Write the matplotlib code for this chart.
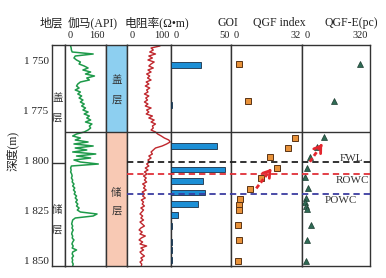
import matplotlib
matplotlib.use('Agg')
import matplotlib.pyplot as plt
from matplotlib.transforms import blended_transform_factory

plt.rcParams['font.family'] = ['Liberation Serif', 'Noto Sans CJK SC', 'DejaVu Sans']

# ---------------- data ----------------
depth_top, depth_bottom = 1742.5, 1853.0
depth_ticks = [1750, 1775, 1800, 1825, 1850]
depth_tick_labels = ['1 750', '1 775', '1 800', '1 825', '1 850']

curve_depth_start = 1742  # 1 m sampling
gamma = [22, 22, 24, 25, 28, 110, 40, 35, 45, 60, 55, 75, 90, 70, 100, 80, 115, 85, 95, 60,
         50, 45, 55, 40, 60, 50, 65, 55, 70, 60, 75, 65, 80, 70, 90, 75, 95, 85, 100, 80,
         105, 95, 100, 90, 75,
         45, 30, 60, 40, 90, 35, 110, 40, 85, 30, 120, 45, 100, 35, 60, 130, 25, 22, 24, 22,
         26, 28, 25, 30, 28, 35, 30, 38, 33, 40, 36, 45, 40, 48, 42, 50, 45, 55, 48, 60,
         125, 110, 40, 30, 28, 26, 30, 27, 32, 28, 26, 30, 28, 35, 30, 27, 32, 28, 45, 30,
         28, 33, 27, 30, 28, 32, 30]
resistivity = [60, 75, 55, 60, 52, 65, 50, 58, 48, 62, 55, 50, 60, 48, 55, 45, 52, 47, 55, 44,
               50, 42, 52, 45, 48, 40, 50, 43, 47, 40, 48, 42, 55, 45, 50, 44, 58, 50, 62, 55,
               65, 58, 60, 55, 65,
               70, 78, 85, 95, 98, 90, 80, 65, 60, 55, 58, 50, 55, 48, 52, 45, 50, 42, 48, 40,
               46, 38, 44, 40, 45, 36, 42, 38, 44, 35, 40, 36, 42, 33, 38, 35, 40, 32, 38, 34,
               30, 36, 32, 38, 30, 35, 40, 32, 28, 35, 30, 42, 33, 28, 36, 30, 45, 32, 38, 30,
               34, 40, 32, 36, 30, 34, 33]

goi_depth = [1752.5, 1772.5, 1793, 1804.7, 1810.5, 1816.3, 1822, 1827.5, 1833, 1841, 1845, 1850]
goi_value = [25, 1, 38, 45, 26.5, 28, 22, 5.5, 1, 1, 0.7, 1]

qgf_depth = [1752.2, 1770.5, 1788.8, 1793.8, 1798.7, 1804.2, 1809.2, 1814.7, 1819.7, 1822.5,
             1825, 1832.5, 1840, 1850.5]
qgf_value = [3.3, 7.6, 29, 25.7, 17.6, 20.5, 13.6, 8.5, 3.8, 3.5, 3.3, 3.2, 3.3, 3.2]

qgfe_depth = [1752, 1770.3, 1788.7, 1793.7, 1798.7, 1804, 1808.7, 1814, 1819, 1821, 1823,
              1824.5, 1832.5, 1840, 1850.5]
qgfe_value = [276, 152, 106, 72, 37, 25, 16, 27, 18, 15, 20, 22, 42, 23, 19]

seal_base = 1786.0          # seal / reservoir boundary in log tracks
strat_boundary = 1801.5     # boundary in stratum column
contacts = {'FWL': 1801.0, 'ROWC': 1807.0, 'POWC': 1817.0}

qgf_arrow = [(11.3, 1814.2), (18.9, 1803.3)]
qgfe_arrow = [(37, 1800.9), (103, 1790.9)]

# ---------------- layout ----------------
W, H = 386, 278
fig = plt.figure(figsize=(W / 100, H / 100), dpi=100)
y_top_px, y_bot_px = 45, 266

def rect(x0, x1):
    return [x0 / W, 1 - y_bot_px / H, (x1 - x0) / W, (y_bot_px - y_top_px) / H]

cols = {'strat': (52, 65), 'gamma': (65, 106), 'zone': (106, 126.7), 'res': (126.7, 171),
        'goi': (171, 231.3), 'qgf': (231.3, 302), 'qgfe': (302, 369.7)}
frame_c = '#333333'
lw_frame = 1.0

axes = {}
for k, (x0, x1) in cols.items():
    ax = fig.add_axes(rect(x0, x1))
    ax.set_ylim(depth_bottom, depth_top)
    ax.set_xticks([])
    ax.set_yticks([])
    for s in ax.spines.values():
        s.set_color(frame_c)
        s.set_linewidth(lw_frame)
    axes[k] = ax

ranges = {'gamma': (0, 160), 'res': (0, 100), 'goi': (0, 50), 'qgf': (0, 32), 'qgfe': (0, 320)}
for k, r in ranges.items():
    axes[k].set_xlim(*r)
axes['zone'].set_xlim(0, 1)
axes['strat'].set_xlim(0, 1)

depths = [curve_depth_start + i for i in range(len(gamma))]
axes['gamma'].plot(gamma, depths, color='#1E9A4A', lw=1.1)
axes['res'].plot(resistivity, depths, color='#C0272D', lw=1.0)

# zone column
axes['zone'].axhspan(depth_top, seal_base, color='#8DCFF0', lw=0)
axes['zone'].axhspan(seal_base, depth_bottom, color='#F8C9B4', lw=0)
zone_font = dict(fontsize=7.5, ha='center', va='center', color='#333333')
axes['zone'].text(0.5, 1760, '盖', **zone_font)
axes['zone'].text(0.5, 1770, '层', **zone_font)
axes['zone'].text(0.5, 1816.5, '储', **zone_font)
axes['zone'].text(0.5, 1825.5, '层', **zone_font)

# stratum column
axes['strat'].axhline(strat_boundary, color=frame_c, lw=lw_frame)
axes['strat'].text(0.4, 1769, '盖', **zone_font)
axes['strat'].text(0.4, 1779, '层', **zone_font)
axes['strat'].text(0.4, 1825, '储', **zone_font)
axes['strat'].text(0.4, 1835, '层', **zone_font)
axes['strat'].set_yticks(depth_ticks)
axes['strat'].set_yticklabels(depth_tick_labels, fontsize=8, color='#222222')
axes['strat'].tick_params(axis='y', length=0, pad=2.5)

# seal base line across tracks
for k in ['gamma', 'zone', 'res', 'goi', 'qgf', 'qgfe']:
    axes[k].axhline(seal_base, color=frame_c, lw=lw_frame, zorder=5)

# GOI bars
axes['goi'].barh(goi_depth, goi_value, height=2.8, left=0, color='#1C8FD6',
                 edgecolor='#1a2f45', linewidth=0.6, zorder=3)

# QGF index squares
axes['qgf'].plot(qgf_value, qgf_depth, ls='none', marker='s', ms=4.2,
                 mfc='#E8923A', mec='#5a3415', mew=0.7, zorder=4)
# QGF-E triangles
axes['qgfe'].plot(qgfe_value, qgfe_depth, ls='none', marker='^', ms=4.0,
                  mfc='#2E6B55', mec='#1d3d31', mew=0.5, zorder=4)

# contacts (dashed) spanning resistivity .. QGF-E
ov = fig.add_axes(rect(52, 369.7))
ov.set_ylim(depth_bottom, depth_top)
ov.set_xlim(0, 1)
ov.axis('off')
ov.patch.set_alpha(0)
start_frac = (cols['res'][0] - 52) / (369.7 - 52)
contact_colors = {'FWL': '#222222', 'ROWC': '#E03038', 'POWC': '#3B3DA0'}
for name, d in contacts.items():
    ov.plot([start_frac, 1], [d, d], color=contact_colors[name], lw=1.3,
            dashes=(3.5, 2.2), zorder=6)

# contact labels
qa = axes['qgfe']
tr = blended_transform_factory(qa.transAxes, qa.transData)
lab = dict(fontsize=8, color='#333333', transform=tr, zorder=7)
qa.text(0.73, contacts['FWL'] - 0.6, 'FWL', ha='center', va='baseline', **lab)
qa.text(0.74, contacts['ROWC'] + 1.2, 'ROWC', ha='center', va='top', **lab)
qa.text(0.58, contacts['POWC'] + 1.2, 'POWC', ha='center', va='top', **lab)

# arrows
arrow_c = '#E3262E'
for ax, pts in [(axes['qgf'], qgf_arrow), (axes['qgfe'], qgfe_arrow)]:
    (x0, y0), (x1, y1) = pts
    ax.plot([x0, x0 + (x1 - x0) * 0.8], [y0, y0 + (y1 - y0) * 0.8], color=arrow_c,
            lw=2.0, dashes=(1.6, 1.0), zorder=8, solid_capstyle='butt')
    ax.annotate('', xy=(x1, y1), xytext=(x0 + (x1 - x0) * 0.7, y0 + (y1 - y0) * 0.7),
                arrowprops=dict(arrowstyle='->,head_length=0.45,head_width=0.3',
                                color=arrow_c, lw=2.0), zorder=8)

# headers
def fy(ypx):
    return 1 - ypx / H

title_y = fy(23.3)
tick_y = fy(36)
hdr = dict(fontsize=8.5, ha='center', va='center', color='#222222')
fig.text(51 / W, title_y, '地层', **hdr)
fig.text(92.5 / W, title_y, '伽马(API)', **hdr)
fig.text(157 / W, title_y, '电阻率(Ω•m)', **hdr)
fig.text(227.5 / W, title_y, 'GOI', **hdr)
fig.text(279 / W, title_y, 'QGF index', **hdr)
fig.text(351.5 / W, title_y, 'QGF-E(pc)', **hdr)

tk = dict(fontsize=7.5, va='center', color='#222222')
for k, (lo, hi) in ranges.items():
    x0, x1 = cols[k]
    fig.text((x0 + 2.5) / W, tick_y, f'{lo}', ha='left', **tk)
    fig.text((x1 - 1.5) / W, tick_y, f'{hi}', ha='right', **tk)

fig.text(12 / W, fy(151), '深度(m)', fontsize=8.5, rotation=90, ha='center', va='center',
         color='#222222')

fig.savefig('out.png', dpi=100)
